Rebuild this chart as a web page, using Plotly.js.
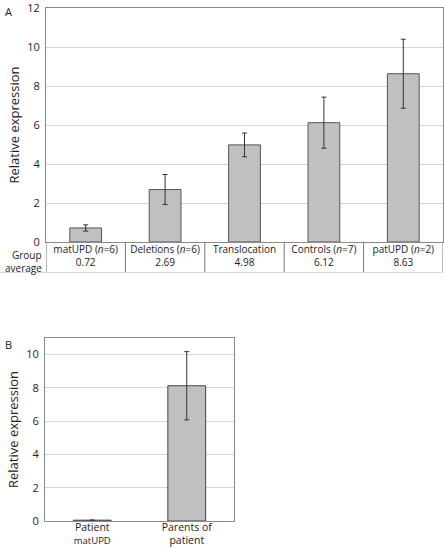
<!DOCTYPE html>
<html>
<head>
<meta charset="utf-8">
<script src="https://cdn.plot.ly/plotly-3.0.1.min.js"></script>
<style>html,body{margin:0;padding:0;background:#fff;}#chart{width:444px;height:547px;}</style>
</head>
<body>
<div id="chart"></div>
<script>
// Panel A data
const catsA = ["matUPD (<i>n</i>=6)", "Deletions (<i>n</i>=6)", "Translocation", "Controls (<i>n</i>=7)", "patUPD (<i>n</i>=2)"];
const valsA = [0.72, 2.69, 4.98, 6.12, 8.63];
const errA  = [0.16, 0.77, 0.61, 1.31, 1.77];
const avgLabelsA = ["0.72", "2.69", "4.98", "6.12", "8.63"];
const rowLabelA = ["Group", "average"];
// Panel B data
const catsB = ["Patient<br><span style='font-size:9.5px'>matUPD</span>", "Parents of<br>patient"];
const valsB = [0.05, 8.13];
const errB  = [0, 2.05];

const W = 444, H = 547;
const px = v => v / W;
const py = v => 1 - v / H;

const font = "Open Sans, Noto Sans, DejaVu Sans, sans-serif";
const txt = "#222";
const grid = "#d6d6d6";
const axisCol = "#8a8a8a";

const idxA = catsA.map((c, i) => i);
const ticktextA = catsA.map((c, i) => c + "<br>" + avgLabelsA[i]);

const traces = [
  {
    type: "bar", x: idxA, y: valsA, xaxis: "x", yaxis: "y",
    marker: {color: "#c0c0c0", line: {color: "#555", width: 1}},
    error_y: {type: "data", array: errA, visible: true, color: "#333", thickness: 1, width: 2.5},
    hoverinfo: "none"
  },
  {
    type: "bar", x: [0, 1], y: valsB, xaxis: "x2", yaxis: "y2",
    marker: {color: "#c0c0c0", line: {color: "#444", width: 1}},
    error_y: {type: "data", array: errB, visible: true, color: "#333", thickness: 1, width: 2.5},
    hoverinfo: "none"
  }
];

// table dividers for panel A (category boundaries)
const shapes = [];
for (let i = 0; i <= catsA.length; i++) {
  shapes.push({type: "line", xref: "x", yref: "paper", x0: i - 0.5, x1: i - 0.5,
    y0: py(242), y1: py(272), line: {color: "#777", width: 1}});
}
shapes.push({type: "line", xref: "paper", yref: "paper", x0: px(0), x1: px(443),
  y0: py(272.5), y1: py(272.5), line: {color: "#dcdcdc", width: 1}});

const annotations = [
  {text: "A", xref: "paper", yref: "paper", x: px(3), y: py(2), xanchor: "left", yanchor: "top",
    showarrow: false, font: {size: 11, color: txt}},
  {text: "B", xref: "paper", yref: "paper", x: px(3), y: py(335), xanchor: "left", yanchor: "top",
    showarrow: false, font: {size: 11, color: txt}}
];
rowLabelA.forEach((t, i) => {
  annotations.push({text: t, xref: "paper", yref: "paper", x: px(44), y: py(255 + i * 13),
    xanchor: "right", yanchor: "middle", showarrow: false, font: {size: 10, color: txt}});
});

const layout = {
  width: W, height: H,
  margin: {l: 0, r: 0, t: 0, b: 0},
  paper_bgcolor: "#fff", plot_bgcolor: "#fff",
  showlegend: false,
  bargap: 0.6,
  font: {family: font, size: 11, color: txt},
  xaxis: {
    domain: [px(46), px(443)], anchor: "y",
    range: [-0.5, catsA.length - 0.5],
    tickmode: "array", tickvals: idxA, ticktext: ticktextA,
    ticks: "", showgrid: false, zeroline: false,
    showline: true, linecolor: axisCol, linewidth: 1, mirror: true,
    tickfont: {size: 10, color: txt}, ticklabelstandoff: -2
  },
  yaxis: {
    domain: [py(242), py(8)], anchor: "x",
    range: [0, 12], dtick: 2, tick0: 0,
    showgrid: true, gridcolor: grid, gridwidth: 1, zeroline: false,
    showline: true, linecolor: axisCol, linewidth: 1, mirror: true,
    ticks: "", ticklabelstandoff: 3, ticklabelshift: -1.5, ticklabeloverflow: "allow",
    tickfont: {size: 11, color: txt},
    title: {text: "Relative expression", font: {size: 13, color: txt}, standoff: 4}
  },
  xaxis2: {
    domain: [px(45), px(234)], anchor: "y2",
    range: [-0.5, 1.5],
    tickmode: "array", tickvals: [0, 1], ticktext: catsB,
    ticks: "", showgrid: false, zeroline: false,
    showline: true, linecolor: axisCol, linewidth: 1, mirror: true,
    tickfont: {size: 10.5, color: txt}, ticklabelstandoff: -4
  },
  yaxis2: {
    domain: [py(521), py(338)], anchor: "x2",
    range: [0, 11], dtick: 2, tick0: 0,
    showgrid: true, gridcolor: grid, gridwidth: 1, zeroline: false,
    showline: true, linecolor: axisCol, linewidth: 1, mirror: true,
    ticks: "", ticklabelstandoff: 3,
    tickfont: {size: 11, color: txt},
    title: {text: "Relative expression", font: {size: 13, color: txt}, standoff: 4}
  },
  shapes: shapes,
  annotations: annotations
};

Plotly.newPlot("chart", traces, layout, {displayModeBar: false, staticPlot: true});
</script>
</body>
</html>
